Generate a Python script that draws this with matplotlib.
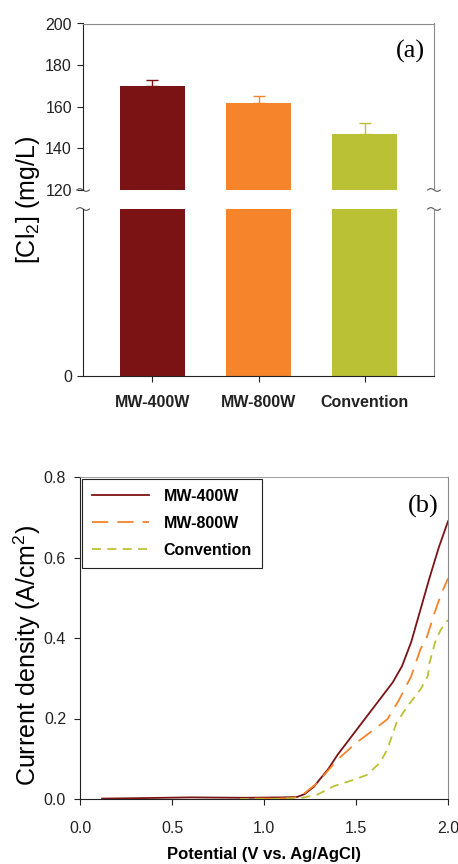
import numpy as np
import matplotlib
matplotlib.use('Agg')
import matplotlib.pyplot as plt

plt.rcParams['font.family'] = ['Liberation Sans Narrow', 'Liberation Sans', 'DejaVu Sans']
plt.rcParams['mathtext.fontset'] = 'custom'
plt.rcParams['mathtext.rm'] = 'Liberation Sans'
plt.rcParams['mathtext.it'] = 'Liberation Sans:italic'

# ── Panel (a) data ────────────────────────────────────────────────────────────
samples   = ['MW-400W', 'MW-800W', 'Convention']
cl2_conc  = [170, 162, 147]
cl2_err   = [3, 3, 5]
bar_colors = ['#7B1315', '#F5842B', '#BBC135']

# ── Panel (b) data ────────────────────────────────────────────────────────────
pot_400 = [0.12, 0.3, 0.6, 0.9, 1.1, 1.18, 1.22, 1.27, 1.35, 1.4, 1.5, 1.55,
           1.6, 1.7, 1.75, 1.8, 1.85, 1.9, 1.95, 2.0]
cur_400 = [0.001, 0.002, 0.004, 0.003, 0.004, 0.005, 0.012, 0.03, 0.075, 0.11,
           0.17, 0.20, 0.23, 0.29, 0.33, 0.39, 0.47, 0.55, 0.625, 0.69]

pot_800 = [0.95, 1.05, 1.15, 1.2, 1.29, 1.4, 1.5, 1.61, 1.67, 1.73, 1.8,
           1.85, 1.88, 1.92, 1.96, 2.0]
cur_800 = [0.001, 0.001, 0.002, 0.007, 0.04, 0.098, 0.139, 0.177, 0.198,
           0.243, 0.305, 0.372, 0.395, 0.453, 0.506, 0.548]

pot_con = [0.87, 1.0, 1.1, 1.2, 1.29, 1.38, 1.49, 1.56, 1.63, 1.67, 1.72,
           1.78, 1.85, 1.89, 1.9, 1.93, 1.96, 2.0]
cur_con = [0.0, 0.0, 0.001, 0.002, 0.011, 0.032, 0.048, 0.06, 0.09, 0.123,
           0.189, 0.231, 0.272, 0.305, 0.339, 0.39, 0.42, 0.445]

LEFT_C = '#222222'
RIGHT_C = '#8a8a8a'
TICK_FS = 11.5

fig = plt.figure(figsize=(4.58, 8.64), dpi=100)

ax_top = fig.add_axes([83/458, 1-190/864, 351/458, 166.5/864])
ax_bot = fig.add_axes([83/458, 1-376/864, 351/458, 167/864])

x = np.arange(len(samples))
for ax in (ax_top, ax_bot):
    ax.bar(x, cl2_conc, width=0.61, color=bar_colors, zorder=2)
    ax.set_xlim(-0.65, 2.65)
    ax.tick_params(axis='both', direction='out', length=4, width=0.8,
                   labelsize=TICK_FS, colors='#222222')
    ax.spines['left'].set_color(LEFT_C)
    ax.spines['right'].set_color(RIGHT_C)
    ax.spines['top'].set_color(RIGHT_C)
    ax.spines['bottom'].set_color(LEFT_C)

for i in range(len(samples)):
    ax_top.errorbar(x[i], cl2_conc[i], yerr=[[0], [cl2_err[i]]],
                    color=bar_colors[i], capsize=4, elinewidth=1, capthick=1,
                    zorder=3)

ax_top.set_ylim(120, 200)
ax_top.set_yticks([120, 140, 160, 180, 200])
ax_top.spines['bottom'].set_visible(False)
ax_top.tick_params(axis='x', bottom=False, labelbottom=False)
ax_top.tick_params(axis='y', pad=4)
ax_top.text(0.975, 0.83, '(a)', transform=ax_top.transAxes, ha='right',
            va='center', fontsize=19, family='Liberation Serif')

ax_bot.set_ylim(0, 100)
ax_bot.set_yticks([0])
ax_bot.spines['top'].set_visible(False)
ax_bot.set_xticks(x)
ax_bot.set_xticklabels(samples, fontweight='bold')
ax_bot.tick_params(axis='x', pad=10)
ax_bot.tick_params(axis='y', pad=4)

# break marks
t = np.linspace(0, 1, 30)
for ax, yb in ((ax_top, 0.0), (ax_bot, 1.0)):
    for xs in (0.0, 1.0):
        ax.plot(xs - 0.018 + 0.036 * t, yb + 0.008 * np.sin(2 * np.pi * t),
                transform=ax.transAxes, clip_on=False, color='#555555', lw=0.8)

fig.text(27.5/458, 1-200/864, '[Cl$_2$] (mg/L)', rotation=90, ha='center',
         va='center', fontsize=18, family='Liberation Sans')

# ── Panel (b) ─────────────────────────────────────────────────────────────────
axb = fig.add_axes([80/458, 1-799/864, 368/458, 322/864])
axb.plot(pot_400, cur_400, color='#7B1315', lw=1.3, label='MW-400W')
axb.plot(pot_800, cur_800, color='#F5842B', lw=1.3, dashes=(9, 5), label='MW-800W')
axb.plot(pot_con, cur_con, color='#BBC135', lw=1.3, dashes=(5, 3.5), label='Convention')
axb.set_xlim(0, 2.0)
axb.set_ylim(0, 0.8)
axb.set_xticks([0.0, 0.5, 1.0, 1.5, 2.0])
axb.set_yticks([0.0, 0.2, 0.4, 0.6, 0.8])
axb.xaxis.set_major_formatter(plt.FormatStrFormatter('%.1f'))
axb.yaxis.set_major_formatter(plt.FormatStrFormatter('%.1f'))
axb.tick_params(axis='both', direction='out', length=4, width=0.8,
                labelsize=TICK_FS, colors='#222222')
axb.tick_params(axis='x', pad=12)
axb.tick_params(axis='y', pad=6)
axb.spines['left'].set_color(LEFT_C)
axb.spines['bottom'].set_color(LEFT_C)
axb.spines['right'].set_color(RIGHT_C)
axb.spines['top'].set_color(RIGHT_C)
axb.spines['top'].set_linewidth(0.6)

leg = axb.legend(loc='upper left', borderaxespad=0.15, handlelength=3.6,
                 handletextpad=0.9, labelspacing=0.75, fancybox=False,
                 framealpha=1, edgecolor='#222222', borderpad=0.6,
                 prop={'weight': 'bold', 'size': 11.5})
leg.get_frame().set_linewidth(0.8)

axb.text(0.975, 0.91, '(b)', transform=axb.transAxes, ha='right',
         va='center', fontsize=19, family='Liberation Serif')

fig.text(27.5/458, 1-655/864, 'Current density (A/cm$^2$)', rotation=90,
         ha='center', va='center', fontsize=18, family='Liberation Sans')
fig.text(264/458, 1-855/864, 'Potential (V vs. Ag/AgCl)', ha='center',
         va='center', fontsize=12, fontweight='bold')

fig.savefig('out.png', dpi=100)
